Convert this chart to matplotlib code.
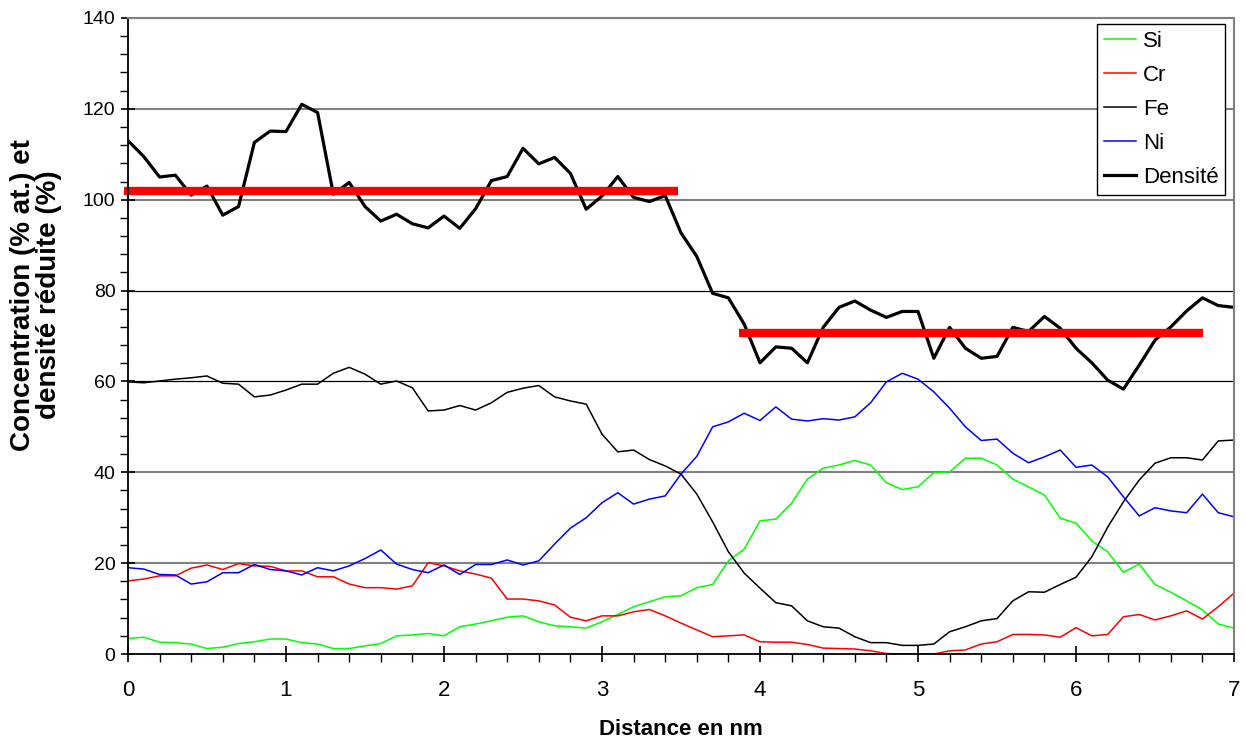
import numpy as np
import matplotlib
matplotlib.use('Agg')
import matplotlib.pyplot as plt
from matplotlib.ticker import MultipleLocator

plt.rcParams['font.family'] = ['Liberation Sans', 'DejaVu Sans']

# Distance axis (nm), one point every 0.1 nm
distance = np.round(np.arange(0, 7.01, 0.1), 1)

si = [3.4, 3.7, 2.6, 2.5, 2.2, 1.2, 1.5, 2.3, 2.7, 3.3,
      3.3, 2.5, 2.2, 1.2, 1.2, 1.8, 2.3, 4.0, 4.2, 4.5,
      4.0, 6.0, 6.6, 7.3, 8.1, 8.4, 7.1, 6.2, 6.0, 5.7,
      7.1, 8.7, 10.4, 11.5, 12.6, 12.8, 14.6, 15.3, 20.5, 23.1,
      29.3, 29.7, 33.2, 38.5, 40.9, 41.6, 42.6, 41.6, 37.7, 36.2,
      36.8, 39.9, 40.1, 43.1, 43.1, 41.6, 38.5, 36.8, 35.0, 29.9,
      28.8, 24.9, 22.5, 18.0, 19.8, 15.3, 13.6, 11.7, 9.7, 6.6, 5.7]

cr = [16.1, 16.5, 17.2, 17.2, 18.9, 19.6, 18.6, 19.9, 19.4, 19.3,
      18.3, 18.3, 17.0, 17.0, 15.4, 14.6, 14.6, 14.3, 15.0, 20.1,
      19.4, 18.3, 17.6, 16.7, 12.1, 12.1, 11.7, 10.8, 8.1, 7.3,
      8.4, 8.4, 9.3, 9.8, 8.4, 6.8, 5.3, 3.8, 4.0, 4.2,
      2.7, 2.6, 2.6, 2.1, 1.3, 1.2, 1.1, 0.7, 0.1, 0.0,
      0.0, 0.0, 0.7, 0.9, 2.2, 2.7, 4.3, 4.3, 4.2, 3.7,
      5.8, 4.0, 4.3, 8.2, 8.7, 7.5, 8.4, 9.5, 7.7, 10.4, 13.4]

fe = [59.9, 59.7, 60.1, 60.5, 60.8, 61.2, 59.6, 59.4, 56.6, 57.0,
      58.1, 59.4, 59.4, 61.8, 63.1, 61.6, 59.4, 60.1, 58.6, 53.5,
      53.7, 54.7, 53.7, 55.3, 57.6, 58.5, 59.1, 56.6, 55.7, 55.0,
      48.4, 44.5, 44.9, 42.8, 41.4, 39.6, 35.2, 29.1, 22.5, 17.8,
      14.5, 11.3, 10.6, 7.3, 6.0, 5.7, 3.8, 2.5, 2.5, 1.9,
      1.9, 2.2, 4.9, 6.0, 7.3, 7.8, 11.7, 13.7, 13.6, 15.3,
      16.9, 21.4, 27.9, 33.5, 38.3, 42.0, 43.2, 43.2, 42.7, 46.9, 47.1]

ni = [19.0, 18.7, 17.5, 17.4, 15.4, 15.9, 17.9, 17.9, 19.7, 18.6,
      18.3, 17.4, 19.0, 18.3, 19.4, 21.0, 22.9, 19.8, 18.6, 17.9,
      19.6, 17.5, 19.7, 19.7, 20.7, 19.6, 20.5, 24.2, 27.7, 30.0,
      33.3, 35.5, 33.0, 34.1, 34.8, 39.6, 43.5, 50.0, 51.1, 53.0,
      51.4, 54.4, 51.7, 51.3, 51.8, 51.5, 52.2, 55.3, 59.9, 61.8,
      60.5, 57.7, 54.1, 50.0, 47.0, 47.3, 44.2, 42.1, 43.4, 44.9,
      41.1, 41.6, 39.0, 34.6, 30.4, 32.2, 31.5, 31.1, 35.2, 31.1, 30.2]

densite = [113.0, 109.5, 105.0, 105.4, 101.0, 103.0, 96.6, 98.5, 112.6, 115.1,
           115.0, 121.0, 119.2, 101.2, 103.8, 98.5, 95.3, 96.8, 94.7, 93.8,
           96.4, 93.7, 98.0, 104.2, 105.1, 111.3, 107.9, 109.3, 105.8, 97.9,
           100.8, 105.1, 100.5, 99.6, 100.9, 92.7, 87.5, 79.4, 78.4, 72.6,
           64.1, 67.6, 67.3, 64.1, 71.9, 76.3, 77.7, 75.7, 74.1, 75.4,
           75.4, 65.1, 71.9, 67.3, 65.1, 65.5, 71.9, 71.0, 74.3, 71.7,
           67.3, 64.1, 60.3, 58.3, 63.6, 69.1, 72.0, 75.5, 78.4, 76.7, 76.3]

# mean density levels (thick red bars)
level_x = [[-0.025, 3.48], [3.865, 6.805]]
level_y = [102.0, 70.6]

fig = plt.figure(figsize=(12.46, 7.40), dpi=100)
ax = fig.add_axes([0.1027, 0.1162, 0.8877, 0.8595])

# horizontal gridlines (Excel look: some grey, some black)
for v in [20, 40, 100, 120, 140]:
    ax.axhline(v, color='#808080', lw=1.5, zorder=0)
for v in [60, 80]:
    ax.axhline(v, color='black', lw=0.9, zorder=0)

ax.plot(distance, si, color='#00ff00', lw=1.1, label='Si')
ax.plot(distance, cr, color='#ff0000', lw=1.1, label='Cr')
ax.plot(distance, fe, color='black', lw=1.1, label='Fe')
ax.plot(distance, ni, color='#0000ff', lw=1.1, label='Ni')
ax.plot(distance, densite, color='black', lw=2.3, label='Densité')

for xs, yv in zip(level_x, level_y):
    ax.plot(xs, [yv, yv], color='#ff0000', lw=6, solid_capstyle='butt', clip_on=False)

ax.set_xlim(0, 7)
ax.set_ylim(0, 140)
ax.xaxis.set_major_locator(MultipleLocator(1))
ax.xaxis.set_minor_locator(MultipleLocator(0.2))
ax.yaxis.set_major_locator(MultipleLocator(20))
ax.yaxis.set_minor_locator(MultipleLocator(4))

ax.tick_params(axis='x', which='major', direction='inout', length=12, width=1.2,
               labelsize=16, pad=13)
ax.tick_params(axis='x', which='minor', direction='out', length=6, width=1)
ax.tick_params(axis='y', which='major', direction='inout', length=10, width=1.2,
               labelsize=14, pad=4)
ax.tick_params(axis='y', which='minor', direction='out', length=6, width=1)

for s in ['left', 'bottom']:
    ax.spines[s].set_color('black')
    ax.spines[s].set_linewidth(1.3)
for s in ['top', 'right']:
    ax.spines[s].set_color('#808080')
    ax.spines[s].set_linewidth(1.5)

ax.set_xlabel('Distance en nm', fontsize=16, fontweight='bold', labelpad=13)
ax.set_ylabel('Concentration (% at.) et\ndensité réduite (%)', fontsize=20,
              fontweight='bold', linespacing=1.0, va='center')
ax.yaxis.set_label_coords(-0.083, 0.565)

leg = ax.legend(loc='upper right', bbox_to_anchor=(0.9919, 0.9906), fontsize=16,
                frameon=True, fancybox=False, edgecolor='black', framealpha=1,
                handlelength=1.45, handletextpad=0.3, labelspacing=0.59,
                borderpad=0.3, borderaxespad=0)
leg.get_frame().set_linewidth(1.0)

plt.savefig('out.png', dpi=100)
